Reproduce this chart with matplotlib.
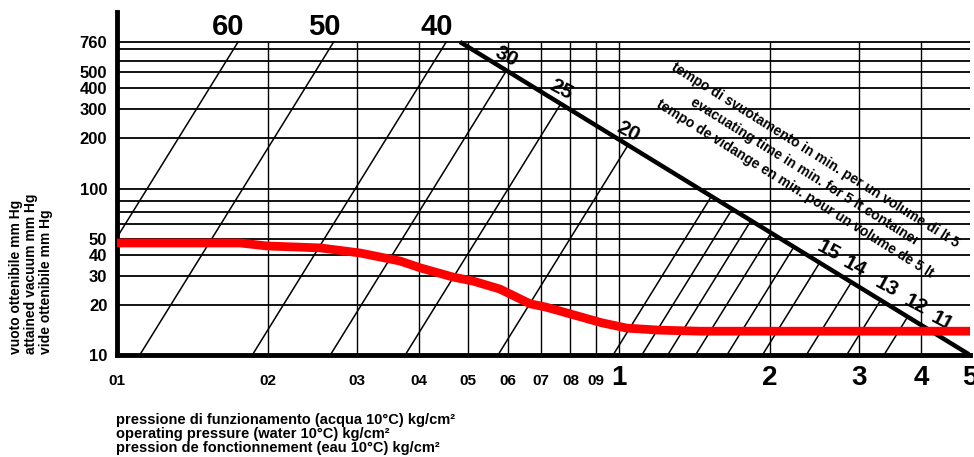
import matplotlib.pyplot as plt
from matplotlib.ticker import FixedLocator, NullLocator
import numpy as np

plt.rcParams['font.family'] = ['Liberation Sans', 'DejaVu Sans']

# axis ticks
x_ticks = [0.1, 0.2, 0.3, 0.4, 0.5, 0.6, 0.7, 0.8, 0.9, 1, 2, 3, 4, 5]
x_tick_labels = ["01", "02", "03", "04", "05", "06", "07", "08", "09", "1", "2", "3", "4", "5"]
y_ticks = [10, 20, 30, 40, 50, 100, 200, 300, 400, 500, 760]
y_tick_labels = ["10", "20", "30", "40", "50", "100", "200", "300", "400", "500", "760"]
# extra unlabeled horizontal rules
extra_levels = [690, 580, 84, 72, 61]

# evacuation time lines (min) and the pressure where each one starts at 10 mm Hg
times = [60, 50, 40, 30, 25, 20, 19, 18, 17, 16, 15, 14, 13, 12, 11]
foot_pressure = [0.0716, 0.111, 0.186, 0.266, 0.375, 0.574, 0.973, 1.11, 1.25,
                 1.42, 1.64, 1.93, 2.36, 2.84, 3.37]
labelled = [60, 50, 40, 30, 25, 20, 15, 14, 13, 12, 11]
time_slope = 4.87  # slope of the time lines on log-log axes

# limit line for the 5 lt container
limit_p = [0.482, 5]
limit_v = [760, 10]

# attained vacuum curve
curve_p = [0.1, 0.176, 0.199, 0.254, 0.305, 0.366, 0.403, 0.467, 0.512, 0.579,
           0.665, 0.715, 0.813, 0.925, 1.037, 1.206, 1.449, 5]
curve_v = [47.1, 47.1, 45.2, 44.0, 41.0, 36.7, 33.3, 29.4, 27.8, 24.9,
           20.3, 19.4, 17.4, 15.6, 14.5, 14.1, 13.9, 13.9]

fig = plt.figure(figsize=(9.74, 4.57), dpi=100)
ax = fig.add_axes([117 / 974, 1 - 355 / 457, 853 / 974, 343 / 457])
ax.set_xscale("log")
ax.set_yscale("log")
ax.set_xlim(0.1, 5)
ax.set_ylim(10, 1150)

# grid
ax.hlines(y_ticks[1:] + extra_levels, 0.1, 5, color="black", lw=1.3)
ax.vlines(x_ticks[1:-1], 10, 760, color="black", lw=1.0)

# time lines, each stops at 760 mm Hg or at the limit line
top = np.log10(760)
l5 = np.log10(limit_p[1])
k = (np.log10(limit_v[0]) - np.log10(limit_v[1])) / (np.log10(limit_p[0]) - l5)
for t, p0 in zip(times, foot_pressure):
    l0 = np.log10(p0)
    lx_top = l0 + (top - 1) / time_slope
    lx_lim = (time_slope * l0 - k * l5) / (time_slope - k)
    lx = min(lx_top, lx_lim)
    ly = 1 + time_slope * (lx - l0)
    xe, ye = 10 ** lx, 10 ** ly
    ax.plot([p0, xe], [10, ye], color="black", lw=1.1)
    if t not in labelled:
        continue
    if lx_top < lx_lim:
        ax.annotate(str(t), (xe, ye), xytext=(-7, 11), textcoords="offset points",
                    ha="center", va="center", fontsize=21, fontweight="bold")
    elif t >= 20:
        ax.annotate(str(t), (xe, ye), xytext=(0, 10), textcoords="offset points",
                    ha="center", va="center", fontsize=15, fontweight="bold",
                    rotation=-28)
    else:
        ax.annotate(str(t), (xe, ye), xytext=(25, -3), textcoords="offset points",
                    ha="center", va="center", fontsize=15, fontweight="bold",
                    rotation=-28)

ax.plot(limit_p, limit_v, color="black", lw=3.2, solid_capstyle="butt")
ax.plot(curve_p, curve_v, color="#ff0000", lw=6.3, solid_capstyle="butt", zorder=5)

# axes look
for side in ["top", "right"]:
    ax.spines[side].set_visible(False)
ax.spines["left"].set_linewidth(3.5)
ax.spines["bottom"].set_linewidth(3.5)

ax.xaxis.set_major_locator(FixedLocator(x_ticks))
ax.xaxis.set_minor_locator(NullLocator())
ax.yaxis.set_major_locator(FixedLocator(y_ticks))
ax.yaxis.set_minor_locator(NullLocator())
ax.set_xticklabels(x_tick_labels)
ax.set_yticklabels(y_tick_labels)
ax.tick_params(length=0)
ax.tick_params(axis="y", pad=7)
for lab in ax.get_yticklabels():
    lab.set_fontsize(12)
    lab.set_fontweight("bold")
for tick, lab in zip(ax.xaxis.get_major_ticks(), x_tick_labels):
    tick.label1.set_fontweight("bold")
    if len(lab) == 1:
        tick.label1.set_fontsize(20)
        tick.set_pad(7)
    else:
        tick.label1.set_fontsize(11)
        tick.set_pad(14)

fig.text(116 / 974, 1 - 413 / 457,
         "pressione di funzionamento (acqua 10°C) kg/cm²\n"
         "operating pressure (water 10°C) kg/cm²\n"
         "pression de fonctionnement (eau 10°C) kg/cm²",
         ha="left", va="top", fontsize=10.5, fontweight="bold", linespacing=1.0)

fig.text(31 / 974, 1 - 354 / 457,
         "vuoto ottenibile mm Hg\nattained vacuum mm Hg\nvide ottenibile mm Hg",
         rotation=90, ha="center", va="bottom", multialignment="left",
         fontsize=10, fontweight="bold", linespacing=1.05)

fig.text(805 / 974, 1 - 172 / 457,
         "tempo di svuotamento in min. per un volume di lt 5\n"
         "evacuating time in min. for 5 lt container\n"
         "tempo de vidange en min. pour un volume de 5 lt",
         rotation=-32, rotation_mode="anchor", ha="center", va="center",
         multialignment="center", fontsize=10, fontweight="bold", linespacing=1.5)

fig.savefig("out.png", dpi=100)
